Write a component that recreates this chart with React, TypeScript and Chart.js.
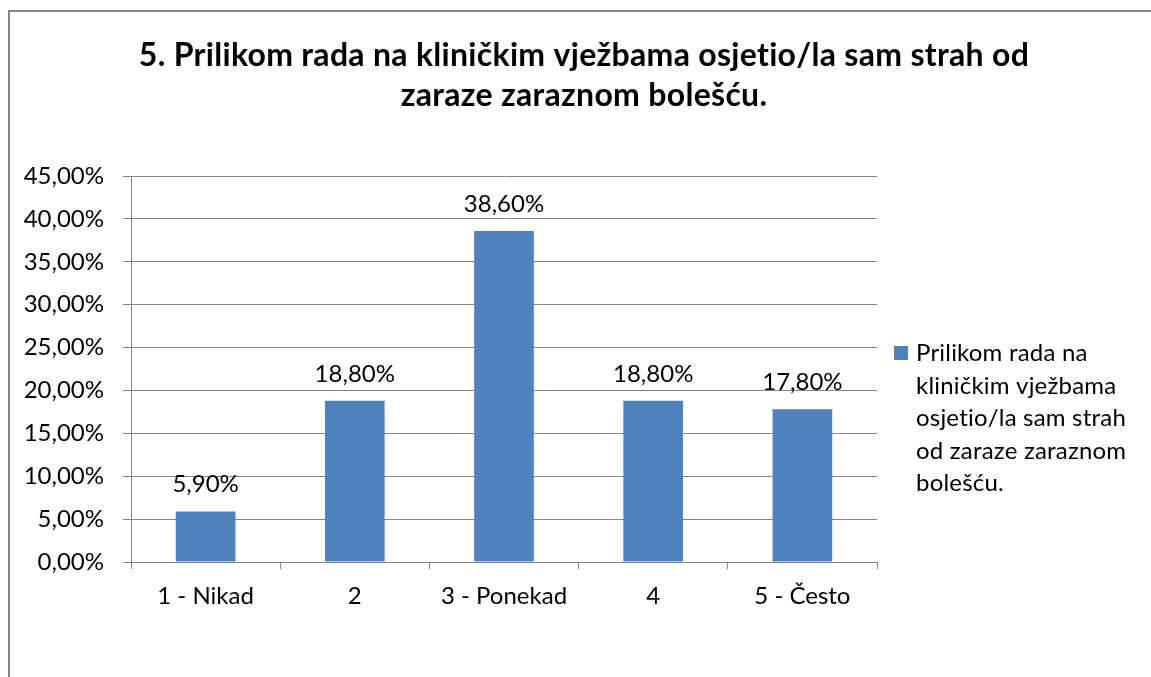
import React, { useEffect, useRef } from "react";
import { Chart, registerables } from "chart.js";

Chart.register(...registerables);

const categories = ["1 - Nikad", "2", "3 - Ponekad", "4", "5 - Često"];
const values = [0.059, 0.188, 0.386, 0.188, 0.178];
const titleLines = [
  "5. Prilikom rada na kliničkim vježbama osjetio/la sam strah od",
  "zaraze zaraznom bolešću.",
];
const legendLines = [
  "Prilikom rada na",
  "kliničkim vježbama",
  "osjetio/la sam strah",
  "od zaraze zaraznom",
  "bolešću.",
];
const seriesName = legendLines.join(" ");

const FONT = "Lato";
const BAR = "#4F81BD";
const GRID = "#868686";

const fmt = (v: number) => (v * 100).toFixed(2).replace(".", ",") + "%";

const decorPlugin = {
  id: "decor",
  afterDraw(chart: any) {
    const ctx = chart.ctx;
    ctx.save();
    // title
    ctx.fillStyle = "#000";
    ctx.font = `bold 32px ${FONT}`;
    (ctx as any).letterSpacing = "0.3px";
    ctx.textAlign = "center";
    ctx.textBaseline = "alphabetic";
    ctx.fillText(titleLines[0], 584, 66);
    ctx.fillText(titleLines[1], 584, 106);
    (ctx as any).letterSpacing = "0px";
    // data labels
    ctx.font = `24px ${FONT}`;
    const meta = chart.getDatasetMeta(0);
    meta.data.forEach((bar: any, i: number) => {
      ctx.fillText(fmt(values[i]), bar.x, bar.y - 19);
    });
    // legend
    ctx.fillStyle = BAR;
    ctx.fillRect(894, 346, 14, 14);
    ctx.fillStyle = "#000";
    ctx.textAlign = "left";
    ctx.font = `24px ${FONT}`;
    (ctx as any).letterSpacing = "0.2px";
    legendLines.forEach((l, i) => {
      ctx.fillText(l, 916, 361 + i * 32.5);
    });
    ctx.restore();
  },
};

export default function App() {
  const ref = useRef<HTMLCanvasElement>(null);
  useEffect(() => {
    document.body.style.overflow = "hidden";
    const chart = new Chart(ref.current!, {
      type: "bar",
      data: {
        labels: categories,
        datasets: [
          {
            label: seriesName,
            data: values,
            backgroundColor: BAR,
            barPercentage: 0.4,
            categoryPercentage: 1,
          },
        ],
      },
      options: {
        responsive: false,
        animation: false,
        layout: { padding: { top: 176, right: 274, bottom: 55, left: 0 } },
        plugins: {
          legend: { display: false },
          title: { display: false },
          tooltip: { enabled: false },
        },
        scales: {
          x: {
            afterFit: (s: any) => {
              s.height = 60;
            },
            grid: {
              offset: true,
              drawOnChartArea: false,
              drawTicks: true,
              tickLength: 7,
              color: GRID,
            },
            border: { display: true, color: GRID, width: 1 },
            ticks: {
              color: "#000",
              font: { family: FONT, size: 24 },
              padding: 13,
            },
          },
          y: {
            min: 0,
            max: 0.45,
            afterFit: (s: any) => {
              s.width = 131;
            },
            grid: { color: GRID, tickLength: 8, drawTicks: true },
            border: { display: true, color: GRID, width: 1 },
            ticks: {
              stepSize: 0.05,
              color: "#000",
              font: { family: FONT, size: 24 },
              padding: 19,
              callback: (v: any) => fmt(Number(v)),
            },
          },
        },
      },
      plugins: [decorPlugin],
    });
    return () => chart.destroy();
  }, []);
  return (
    <>
      <div
        style={{
          position: "fixed",
          left: 8,
          top: 10,
          width: 1160,
          height: 720,
          border: `2px solid ${GRID}`,
          background: "#fff",
        }}
      />
      <canvas
        ref={ref}
        width={1151}
        height={677}
        style={{ position: "fixed", left: 0, top: 0, width: 1151, height: 677 }}
      />
    </>
  );
}
